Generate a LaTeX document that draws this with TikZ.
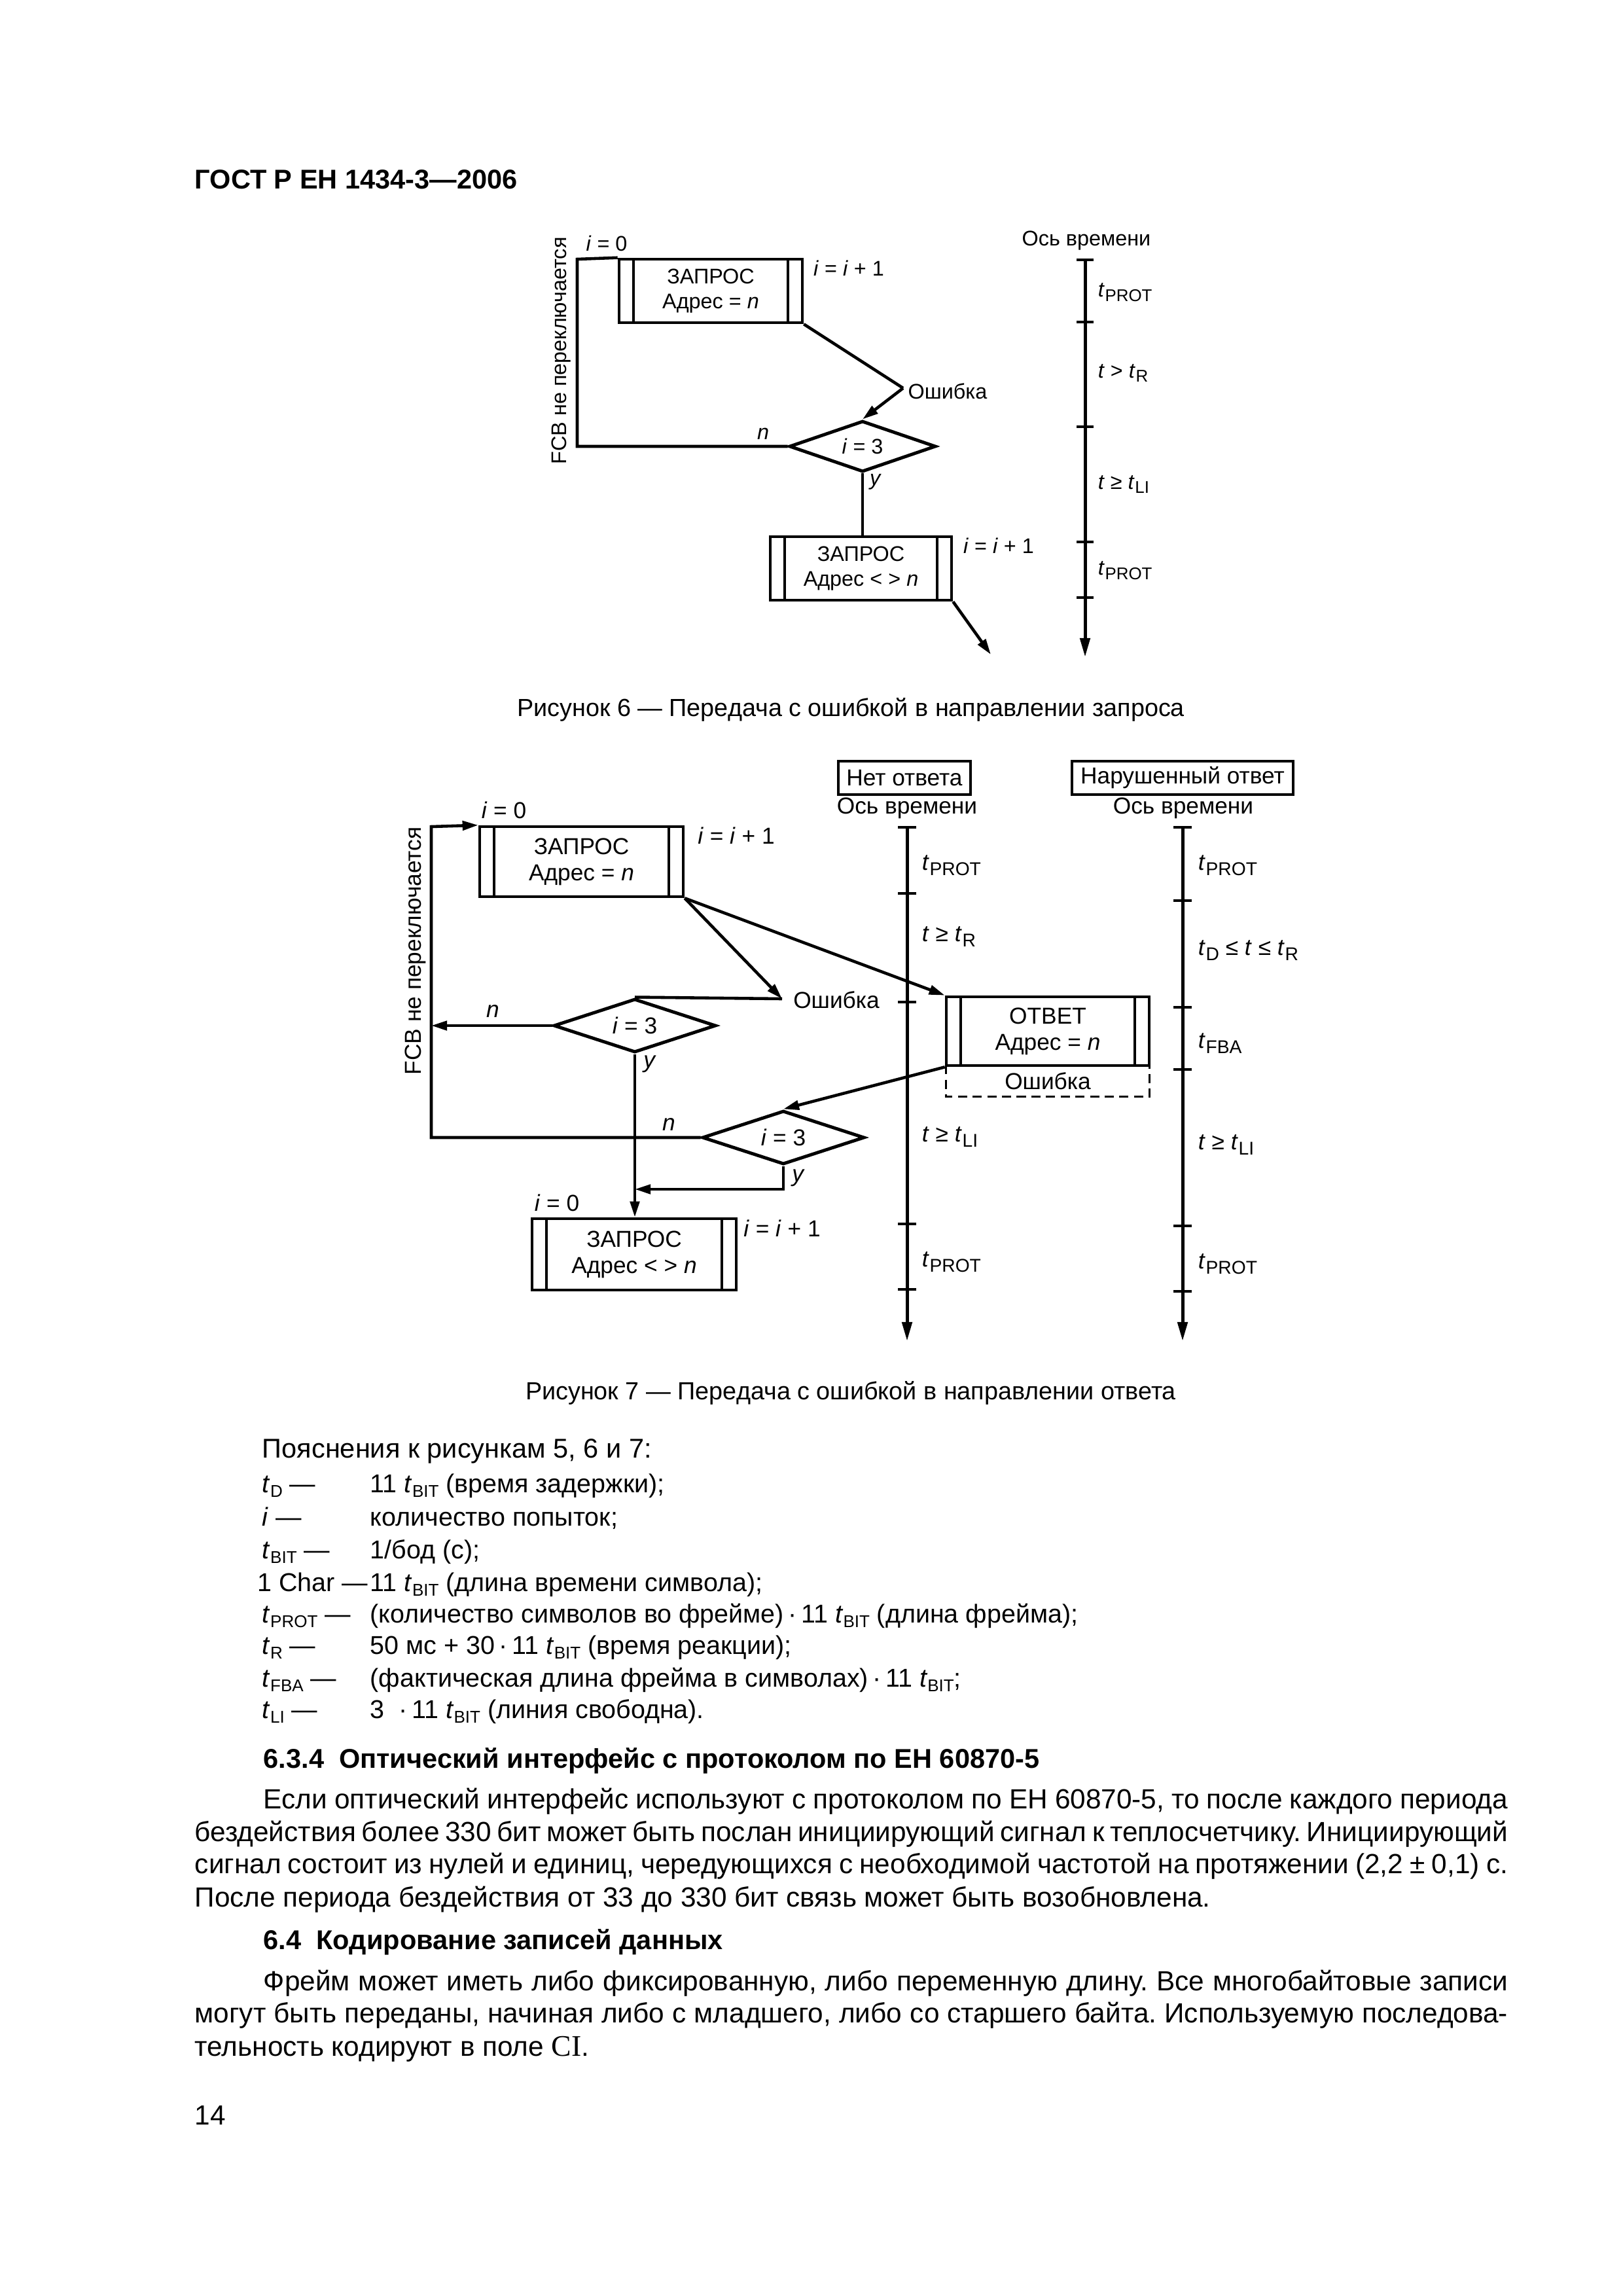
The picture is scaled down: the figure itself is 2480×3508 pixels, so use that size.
\documentclass[tikz,border=0pt]{standalone}
\usepackage{fontspec}
\setmainfont{Liberation Sans}
\newfontfamily\serifci{Liberation Serif}
\usetikzlibrary{arrows.meta,shapes.geometric}
\newcommand\pxu{0.2409pt}
\newcommand\fsix{\fontsize{7.8pt}{9.3pt}\selectfont}
\newcommand\fsev{\fontsize{8.5pt}{9.6pt}\selectfont}
\newcommand\fbody{\fontsize{10.2pt}{12pt}\selectfont}
\newcommand\fleg{\fontsize{9.5pt}{12pt}\selectfont}
\newcommand\fcap{\fontsize{9.1pt}{11pt}\selectfont}
\newcommand\tsb[1]{\textit{t}\kern0.02em\raisebox{-0.4ex}{\scalebox{0.8}{#1}}}
\newcommand\tsl[1]{\textit{t}\raisebox{-0.35ex}{\scalebox{0.66}{#1}}}
\tikzset{
  ln/.style={line width=1.1pt},
  arr/.style={line width=1.1pt,-{Triangle[length=5.8pt,width=3.4pt]}},
  axarr/.style={line width=1.2pt,-{Triangle[length=7pt,width=3.6pt]}},
  dsh/.style={line width=0.7pt,dash pattern=on 3.4pt off 2pt},
  proc/.style={draw,line width=1.1pt,rectangle,inner sep=0pt,align=center,
    path picture={\draw[line width=1.1pt]
      ([xshift=5.3pt]path picture bounding box.north west) -- ([xshift=5.3pt]path picture bounding box.south west)
      ([xshift=-5.3pt]path picture bounding box.north east) -- ([xshift=-5.3pt]path picture bounding box.south east);}},
  proc6/.style={proc,font=\fsix},
  proc7/.style={proc,font=\fsev},
  dec/.style={draw,diamond,line width=1.2pt,inner sep=0pt,aspect=2.8},
  t6/.style={inner sep=0pt,font=\fsix},
  t7/.style={inner sep=0pt,font=\fsev},
  body/.style={inner sep=0pt,anchor=base west,font=\fbody},
  leg/.style={inner sep=0pt,anchor=base west,font=\fleg},
  hbox/.style={draw,line width=1.1pt,inner sep=0pt,font=\fsev},
}
\begin{document}
\frenchspacing
\begin{tikzpicture}[x=0.2409pt,y=-0.2409pt]
\fill[white] (0,0) rectangle (2480,3508);
\useasboundingbox (0,0) rectangle (2480,3508);

% header
\node[body,font=\bfseries\fontsize{10pt}{12pt}\selectfont] (hdr) at (297,288) {ГОСТ Р ЕН 1434-3—2006};

% ================= Figure 6 =================
\node[proc6,minimum width=280*\pxu,minimum height=97*\pxu] (a1) at (1086,444.5) {ЗАПРОС\\Адрес = \textit{n}};
\node[dec,minimum width=224*\pxu,minimum height=78*\pxu,font=\fsix] (ad) at (1318,682) {\textit{i} = 3};
\node[proc6,minimum width=277*\pxu,minimum height=97*\pxu] (a2) at (1315.5,868.5) {ЗАПРОС\\Адрес < > \textit{n}};

\coordinate (a-lt) at (882,396);
\coordinate (a-lb) at (882,682);
\coordinate (a-err) at (1380,593);
\coordinate (a-exit) at (1514,1000);
\draw[ln] (ad.west) -- (a-lb) -- (a-lt) -- (a1.north west);
\draw[ln] (a1.south east) -- (a-err);
\draw[arr] (a-err) -- (ad.north);
\draw[ln] (ad.south) -- (ad.south |- a2.north);
\draw[arr] (a2.south east) -- (a-exit);

\node[t6] (a-i0) at (927,372) {\textit{i} = 0};
\node[t6] (a-inc1) at (1297,410) {\textit{i} = \textit{i} + 1};
\node[t6] (a-errl) at (1448,598) {Ошибка};
\node[t6] (a-n) at (1166,663) {\textit{n}};
\node[t6] (a-y) at (1338,736) {\textit{y}};
\node[t6] (a-inc2) at (1526,834) {\textit{i} = \textit{i} + 1};
\node[t6,rotate=90] (a-fcb) at (858,536) {FCB не переключается};

% time axis fig 6
\node[t6] (a-axt) at (1660,368) {Ось времени};
\coordinate (a-ax0) at (1658,397);
\coordinate (a-ax1) at (1658,1004);
\draw[axarr] (a-ax0) -- (a-ax1);
\foreach \yy in {397,492,652,828,913} \draw[ln] (1645,\yy) -- (1671,\yy);
\node[t6,anchor=west] (a-l1) at (1677,447) {\tsb{PROT}};
\node[t6,anchor=west] (a-l2) at (1677,570) {\textit{t} > \tsb{R}};
\node[t6,anchor=west] (a-l3) at (1677,740) {\textit{t} ≥ \tsb{LI}};
\node[t6,anchor=west] (a-l4) at (1677,872) {\tsb{PROT}};

\node[anchor=base,inner sep=0pt,font=\fcap] (cap6) at (1300,1094) {Рисунок 6 — Передача с ошибкой в направлении запроса};

% ================= Figure 7 =================
\node[proc7,minimum width=311*\pxu,minimum height=107*\pxu] (b1) at (888.5,1316.5) {ЗАПРОС\\Адрес = \textit{n}};
\node[dec,minimum width=248*\pxu,minimum height=82*\pxu,font=\fsev] (d1) at (970,1567) {\textit{i} = 3};
\node[proc7,minimum width=310*\pxu,minimum height=105*\pxu] (otv) at (1601,1575.5) {ОТВЕТ\\Адрес = \textit{n}};
\node[t7,minimum width=310*\pxu,minimum height=47*\pxu] (errbox) at (1601,1651.5) {Ошибка};
\node[dec,minimum width=248*\pxu,minimum height=82*\pxu,font=\fsev] (d2) at (1197,1738) {\textit{i} = 3};
\node[proc7,minimum width=312*\pxu,minimum height=109*\pxu] (b2) at (969,1916.5) {ЗАПРОС\\Адрес < > \textit{n}};

\draw[dsh] (errbox.north west) -- (errbox.south west) -- (errbox.south east) -- (errbox.north east);

\coordinate (b-lt) at (659,1263);
\coordinate (b-lb) at (659,1738);
\coordinate (b-err) at (1195,1526);
\coordinate (b-y) at (1197,1817);
\draw[arr] (d2.west) -- (b-lb) -- (b-lt) -- (b1.north west);
\draw[arr] (d1.west) -- (d1.west -| b-lt);
\draw[arr] (b1.south east) -- (b-err);
\draw[ln] (b-err) -- (d1.north);
\draw[arr] (b1.south east) -- (otv.north west);
\draw[arr] (otv.south west) -- (d2.north);
\draw[arr] (d1.south) -- (d1.south |- b2.north);
\draw[arr] (d2.south) -- (b-y) -- (b-y -| d1.south);

\node[t7] (b-i0) at (770,1238) {\textit{i} = 0};
\node[t7] (b-inc1) at (1125,1277) {\textit{i} = \textit{i} + 1};
\node[t7] (b-errl) at (1278,1528) {Ошибка};
\node[t7] (b-n1) at (753,1545) {\textit{n}};
\node[t7] (b-y1) at (993,1626) {\textit{y}};
\node[t7] (b-n2) at (1022,1718) {\textit{n}};
\node[t7] (b-y2) at (1220,1800) {\textit{y}};
\node[t7] (b-i02) at (851,1838) {\textit{i} = 0};
\node[t7] (b-inc2) at (1195,1877) {\textit{i} = \textit{i} + 1};
\node[t7,rotate=90] (b-fcb) at (635,1453) {FCB не переключается};

% axis "Нет ответа"
\node[hbox,minimum width=202*\pxu,minimum height=51*\pxu] (h1) at (1382,1188.5) {Нет ответа};
\node[t7] (h1t) at (1386,1235) {Ось времени};
\coordinate (c-ax0) at (1386,1264);
\coordinate (c-ax1) at (1386,2049);
\draw[axarr] (c-ax0) -- (c-ax1);
\foreach \yy in {1264,1365,1531,1870,1970} \draw[ln] (1372,\yy) -- (1400,\yy);
\node[t7,anchor=west] (c-l1) at (1408,1322) {\tsb{PROT}};
\node[t7,anchor=west] (c-l2) at (1408,1431) {\textit{t} ≥ \tsb{R}};
\node[t7,anchor=west] (c-l3) at (1408,1737) {\textit{t} ≥ \tsb{LI}};
\node[t7,anchor=west] (c-l4) at (1408,1928) {\tsb{PROT}};

% axis "Нарушенный ответ"
\node[hbox,minimum width=338*\pxu,minimum height=51*\pxu] (h2) at (1807,1188.5) {Нарушенный ответ};
\node[t7] (h2t) at (1808,1235) {Ось времени};
\coordinate (e-ax0) at (1807,1264);
\coordinate (e-ax1) at (1807,2049);
\draw[axarr] (e-ax0) -- (e-ax1);
\foreach \yy in {1264,1376,1539,1634,1873,1973} \draw[ln] (1793,\yy) -- (1821,\yy);
\node[t7,anchor=west] (e-l1) at (1830,1322) {\tsb{PROT}};
\node[t7,anchor=west] (e-l2) at (1830,1452) {\tsb{D} ≤ \textit{t} ≤ \tsb{R}};
\node[t7,anchor=west] (e-l3) at (1830,1594) {\tsb{FBA}};
\node[t7,anchor=west] (e-l4) at (1830,1749) {\textit{t} ≥ \tsb{LI}};
\node[t7,anchor=west] (e-l5) at (1830,1931) {\tsb{PROT}};

\node[anchor=base,inner sep=0pt,font=\fcap] (cap7) at (1300,2138) {Рисунок 7 — Передача с ошибкой в направлении ответа};

% ================= legend =================
\node[leg,font=\fontsize{10pt}{12pt}\selectfont] (lg0) at (400,2227) {Пояснения к рисункам 5, 6 и 7:};
\node[leg] (lk1) at (400,2280) {\tsl{D} —};
\node[leg] (lv1) at (565,2280) {11 \tsl{BIT} (время задержки);};
\node[leg] (lk2) at (400,2331) {\textit{i} —};
\node[leg] (lv2) at (565,2331) {количество попыток;};
\node[leg] (lk3) at (400,2381) {\tsl{BIT} —};
\node[leg] (lv3) at (565,2381) {1/бод (с);};
\node[leg,anchor=base east] (lk4) at (563,2431) {1 Char —};
\node[leg] (lv4) at (565,2431) {11 \tsl{BIT} (длина времени символа);};
\node[leg] (lk5) at (400,2479) {\tsl{PROT} —};
\node[leg] (lv5) at (565,2479) {(количество символов во фрейме)\,·\,11 \tsl{BIT} (длина фрейма);};
\node[leg] (lk6) at (400,2527) {\tsl{R} —};
\node[leg] (lv6) at (565,2527) {50 мс + 30\,·\,11 \tsl{BIT} (время реакции);};
\node[leg] (lk7) at (400,2577) {\tsl{FBA} —};
\node[leg] (lv7) at (565,2577) {(фактическая длина фрейма в символах)\,·\,11 \tsl{BIT};};
\node[leg] (lk8) at (400,2625) {\tsl{LI} —};
\node[leg] (lv8) at (565,2625) {3 \ ·\,11 \tsl{BIT} (линия свободна).};

% ================= text =================
\node[body,font=\bfseries\fontsize{10pt}{12pt}\selectfont] (s634) at (402,2701) {6.3.4\ \ Оптический интерфейс с протоколом по ЕН 60870-5};
\node[body] (p1) at (402,2763) {\makebox[458pt][s]{Если оптический интерфейс используют с протоколом по ЕН 60870-5, то после каждого периода}};
\node[body] (p2) at (297,2813) {\makebox[483.3pt][s]{бездействия более 330 бит может быть послан инициирующий сигнал к теплосчетчику. Инициирующий}};
\node[body] (p3) at (297,2862) {\makebox[483.3pt][s]{сигнал состоит из нулей и единиц, чередующихся с необходимой частотой на протяжении (2,2 ± 0,1) с.}};
\node[body] (p4) at (297,2913) {После периода бездействия от 33 до 330 бит связь может быть возобновлена.};
\node[body,font=\bfseries\fontsize{10pt}{12pt}\selectfont] (s64) at (402,2978) {6.4\ \ Кодирование записей данных};
\node[body] (q1) at (402,3041) {\makebox[458pt][s]{Фрейм может иметь либо фиксированную, либо переменную длину. Все многобайтовые записи}};
\node[body] (q2) at (297,3090) {\makebox[483.3pt][s]{могут быть переданы, начиная либо с младшего, либо со старшего байта. Используемую последова-}};
\node[body] (q3) at (297,3141) {тельность кодируют в поле {\serifci\fontsize{11pt}{12pt}\selectfont CI}.};
\node[body] (pg) at (297,3246) {14};
\end{tikzpicture}
\end{document}
